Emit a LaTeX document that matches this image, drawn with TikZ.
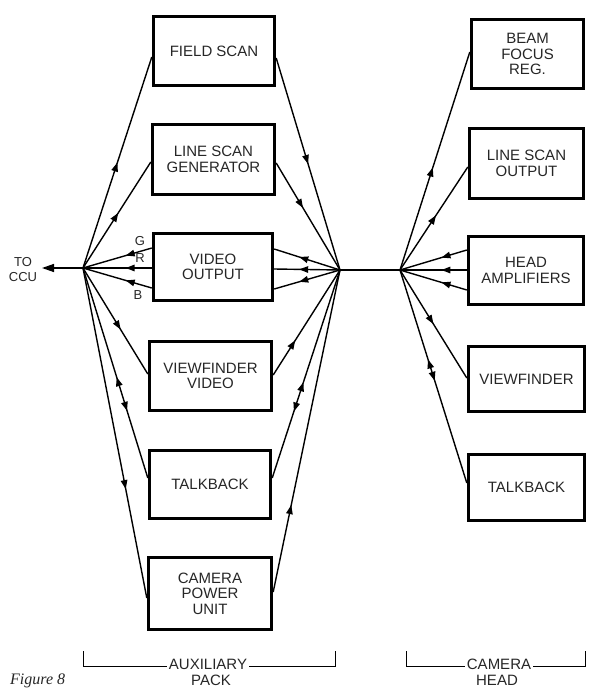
\documentclass[tikz,border=0pt]{standalone}
\usepackage{fontspec}
\setmainfont{Liberation Sans}
\newfontfamily\capserif{Liberation Serif}
\usetikzlibrary{arrows.meta,decorations.markings}
\newcommand\bxfont{\fontsize{15}{15.5}\selectfont}
\newcommand\smfont{\fontsize{13}{15}\selectfont}
\tikzset{
  box/.style={draw, line width=3.4pt, inner sep=0pt, align=center, font=\bxfont, text=black!85},
  wire/.style={line width=1.4pt},
  fwd/.style={postaction={decorate,decoration={markings,mark=at position #1 with {\arrow{Triangle[length=9pt,width=6.5pt]}}}}},
  bwd/.style={postaction={decorate,decoration={markings,mark=at position #1 with {\arrowreversed{Triangle[length=9pt,width=6.5pt]}}}}},
  lbl/.style={font=\smfont, text=black!85, inner sep=0pt, align=center},
  brk/.style={font=\bxfont, text=black!85, inner sep=0pt, align=center},
}
\begin{document}
\begin{tikzpicture}[x=1pt,y=-1pt]
\useasboundingbox (0,0) rectangle (589,691);
% hubs
\coordinate (L) at (83,268);
\coordinate (M) at (340,270);
\coordinate (R) at (400,270);
\coordinate (ccu) at (42,268);
% auxiliary pack boxes
\node[box, minimum width=121pt, minimum height=69pt] (fs) at (214,51) {FIELD SCAN};
\node[box, minimum width=122pt, minimum height=70pt] (lsg) at (213.5,159.5) {LINE SCAN\\GENERATOR};
\node[box, minimum width=119pt, minimum height=67pt] (vo) at (213,267) {VIDEO\\OUTPUT};
\node[box, minimum width=122pt, minimum height=69pt] (vfv) at (210.5,376) {VIEWFINDER\\VIDEO};
\node[box, minimum width=121pt, minimum height=68pt] (tb) at (210,484.5) {TALKBACK};
\node[box, minimum width=123pt, minimum height=72pt] (cpu) at (210,593.5) {CAMERA\\POWER\\UNIT};
% camera head boxes
\node[box, minimum width=112pt, minimum height=69pt] (bfr) at (527.5,54) {BEAM\\FOCUS\\REG.};
\node[box, minimum width=114pt, minimum height=70pt] (lso) at (526.5,163.5) {LINE SCAN\\OUTPUT};
\node[box, minimum width=115pt, minimum height=68pt] (ha) at (526,270.5) {HEAD\\AMPLIFIERS};
\node[box, minimum width=116pt, minimum height=65pt] (vf) at (526.5,379) {VIEWFINDER};
\node[box, minimum width=116pt, minimum height=66pt] (tb2) at (526.5,487.5) {TALKBACK};
% to CCU
\node[lbl] (tccu) at (23,270) {TO\\CCU};
\draw[wire, -{Triangle[length=12pt,width=8pt]}] (L) -- (ccu);
% labels G R B
\node[lbl] (g) at (140,241) {G};
\node[lbl] (r) at (140,258) {R};
\node[lbl] (b) at (138,295) {B};
% left fan
\draw[wire, fwd=0.5] (L) -- ([yshift=-6pt]fs.west);
\draw[wire, fwd=0.52] (L) -- ([yshift=-2.5pt]lsg.west);
\draw[wire, fwd=0.38] ([yshift=19pt]vo.west) -- (L);
\draw[wire, fwd=0.38] ([yshift=-1pt]vo.west) -- (L);
\draw[wire, fwd=0.38] ([yshift=-21pt]vo.west) -- (L);
\draw[wire, fwd=0.58] (L) -- ([yshift=2pt]vfv.west);
\draw[wire, bwd=0.52, fwd=0.68] (L) -- ([yshift=6.5pt]tb.west);
\draw[wire, fwd=0.67] (L) -- ([yshift=-4.5pt]cpu.west);
% middle fan
\draw[wire, fwd=0.5] ([yshift=-7pt]fs.east) -- (M);
\draw[wire, fwd=0.42] ([yshift=-3.5pt]lsg.east) -- (M);
\draw[wire, fwd=0.62] (M) -- ([yshift=18pt]vo.east);
\draw[wire, fwd=0.62] (M) -- ([yshift=-2pt]vo.east);
\draw[wire, fwd=0.62] (M) -- ([yshift=-22pt]vo.east);
\draw[wire, fwd=0.33] ([yshift=1pt]vfv.east) -- (M);
\draw[wire, fwd=0.46, bwd=0.32] ([yshift=6.5pt]tb.east) -- (M);
\draw[wire, fwd=0.27] ([yshift=1.5pt]cpu.east) -- (M);
% link
\draw[wire] (M) -- (R);
% right fan
\draw[wire, fwd=0.47] (R) -- ([yshift=2pt]bfr.west);
\draw[wire, fwd=0.53] (R) -- ([yshift=-3.5pt]lso.west);
\draw[wire, fwd=0.38] ([yshift=20.5pt]ha.west) -- (R);
\draw[wire, fwd=0.38] ([yshift=0.5pt]ha.west) -- (R);
\draw[wire, fwd=0.38] ([yshift=-19.5pt]ha.west) -- (R);
\draw[wire, fwd=0.5] (R) -- ([yshift=1pt]vf.west);
\draw[wire, bwd=0.42, fwd=0.52] (R) -- ([yshift=4.5pt]tb2.west);
% brackets
\node[brk] (aux) at (208,664) {AUXILIARY};
\node[brk] (pack) at (211,680) {PACK};
\coordinate (a1) at (83,651);
\coordinate (a2) at (335,651);
\draw[line width=1pt] (a1) |- ([xshift=-2pt,yshift=2.5pt]aux.base west);
\draw[line width=1pt] ([xshift=2pt,yshift=2.5pt]aux.base east) -| (a2);
\node[brk] (cam) at (499,664) {CAMERA};
\node[brk] (head) at (497,680) {HEAD};
\coordinate (c1) at (406,651);
\coordinate (c2) at (585,651);
\draw[line width=1pt] (c1) |- ([xshift=-2pt,yshift=2.5pt]cam.base west);
\draw[line width=1pt] ([xshift=2pt,yshift=2.5pt]cam.base east) -| (c2);
% caption remnant
\node[anchor=base west, inner sep=0pt, font=\capserif\itshape\fontsize{16}{16}\selectfont, text=black!85] (fig) at (10,684) {Figure 8};
\end{tikzpicture}
\end{document}
